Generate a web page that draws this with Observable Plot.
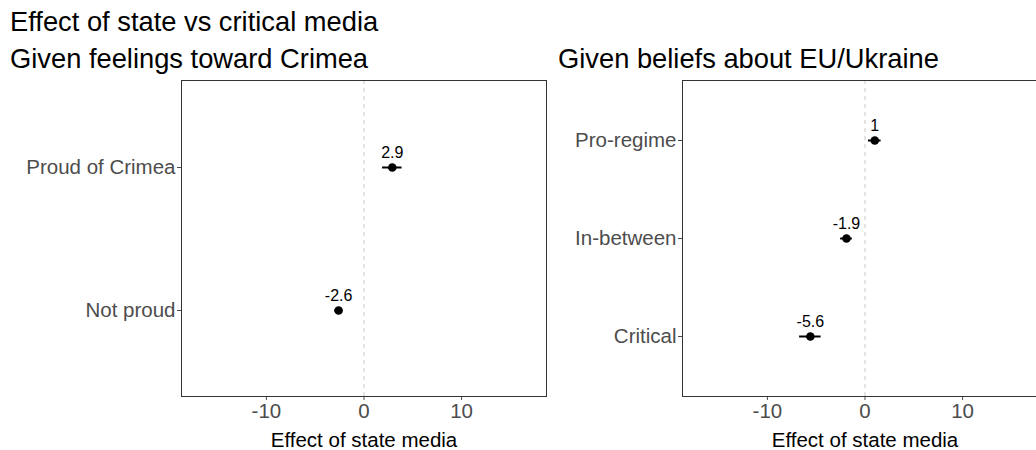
<!DOCTYPE html>
<html>
<head>
<meta charset="utf-8">
<script src="https://cdn.jsdelivr.net/npm/d3@7"></script>
<script src="https://cdn.jsdelivr.net/npm/@observablehq/plot@0.6"></script>
<style>
  html, body { margin: 0; padding: 0; background: white; }
  #page { position: relative; width: 1036px; height: 450px; overflow: hidden; background: white;
          font-family: "Liberation Sans", Arial, sans-serif; color: #000; }
  .ttl { position: absolute; font-size: 27.3px; line-height: 30px; white-space: nowrap; }
  .panel { position: absolute; }
  .panel svg { max-width: none !important; }
</style>
</head>
<body>
<div id="page">
  <div class="ttl" style="left:10px; top:7px;">Effect of state vs critical media</div>
  <div class="ttl" style="left:10px; top:44px;">Given feelings toward Crimea</div>
  <div class="ttl" style="left:558px; top:44px;">Given beliefs about EU/Ukraine</div>
  <div class="panel" id="left" style="left:0px; top:70px;"></div>
  <div class="panel" id="right" style="left:560px; top:70px;"></div>
</div>
<script>
// Estimated effect of state media, by feelings toward Crimea
const crimeaGroups = ["Proud of Crimea", "Not proud"];
const crimeaEstimate = [2.9, -2.6];
const crimeaError = [1.0, 0.4];

// Estimated effect of state media, by beliefs about EU/Ukraine
const euGroups = ["Pro-regime", "In-between", "Critical"];
const euEstimate = [1, -1.9, -5.6];
const euError = [0.65, 0.6, 1.1];

const xTicks = [-10, 0, 10];
const xDomain = [-18.7, 18.7];
const xTitle = "Effect of state media";

function panel(groups, est, err, marginLeft) {
  const rows = groups.map((g, i) => ({group: g, est: est[i], lo: est[i] - err[i], hi: est[i] + err[i], label: String(est[i])}));
  return Plot.plot({
    width: marginLeft + 365 + 12,
    height: 380,
    marginTop: 10,
    marginBottom: 54,
    marginLeft: marginLeft,
    marginRight: 12,
    style: {fontFamily: "'Liberation Sans', Arial, sans-serif", fontSize: "20.5px", color: "#4d4d4d", background: "transparent", overflow: "visible"},
    x: {domain: xDomain, ticks: xTicks, tickFormat: d => String(d), tickSize: 4, tickPadding: 3, label: null},
    y: {type: "point", domain: groups, padding: 0.6, tickSize: 4, tickPadding: 2, label: null},
    marks: [
      Plot.ruleX([0], {stroke: "#cccccc", strokeWidth: 1.1, strokeDasharray: "4,4"}),
      Plot.frame({stroke: "#333333", strokeWidth: 1}),
      Plot.ruleY(rows, {y: "group", x1: "lo", x2: "hi", stroke: "black", strokeWidth: 2}),
      Plot.dot(rows, {y: "group", x: "est", r: 4.3, fill: "black"}),
      Plot.text(rows, {y: "group", x: "est", text: "label", dy: -15, fontSize: 16, fill: "black"}),
      Plot.text([xTitle], {frameAnchor: "bottom", dy: 44, fontSize: 20.5, fill: "black", lineAnchor: "middle"})
    ]
  });
}

document.getElementById("left").appendChild(panel(crimeaGroups, crimeaEstimate, crimeaError, 181));
document.getElementById("right").appendChild(panel(euGroups, euEstimate, euError, 122));
</script>
</body>
</html>
